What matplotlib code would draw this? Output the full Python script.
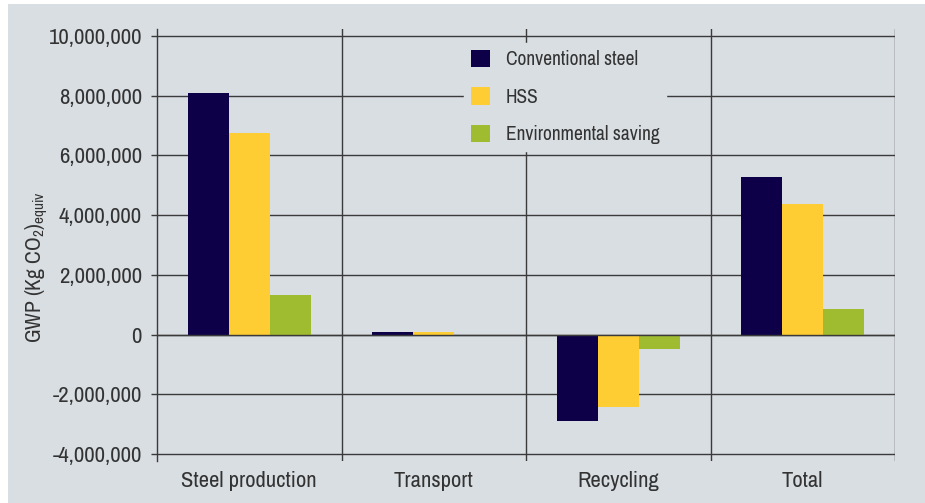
import numpy as np
import matplotlib
matplotlib.use("Agg")
import matplotlib.pyplot as plt
from matplotlib.patches import Rectangle
from matplotlib.ticker import FuncFormatter

# ---------------------------------------
# Data (GWP, kg CO2 equivalent)
# ---------------------------------------

categories = ["Steel production", "Transport", "Recycling", "Total"]
series_names = ["Conventional steel", "HSS", "Environmental saving"]

conventional = [8_100_000, 100_000, -2_890_000, 5_280_000]
hss = [6_750_000, 100_000, -2_440_000, 4_360_000]
saving = [1_340_000, 0, -470_000, 870_000]

y_ticks = [-4_000_000, -2_000_000, 0, 2_000_000, 4_000_000,
           6_000_000, 8_000_000, 10_000_000]

# ---------------------------------------
# Style
# ---------------------------------------

bg = "#d9dee2"
line_col = "#3a3a3a"
text_col = "#333333"
colors = ["#0d0049", "#fecc33", "#9fbc30"]

plt.rcParams["font.family"] = ["Archivo Narrow", "DejaVu Sans"]
plt.rcParams["mathtext.fontset"] = "custom"
plt.rcParams["mathtext.rm"] = "Archivo Narrow"
plt.rcParams["mathtext.it"] = "Archivo Narrow"

fig = plt.figure(figsize=(9.25, 5.03), dpi=100)
fig.patch.set_facecolor("white")
fig.patches.append(Rectangle((8 / 925, 0), 1, 1 - 4 / 503,
                             transform=fig.transFigure,
                             facecolor=bg, edgecolor="none", zorder=-10))

ax = fig.add_axes([157 / 925, 1 - 461 / 503, 738 / 925, 432 / 503])
ax.set_facecolor(bg)

x = np.arange(len(categories))
width = 0.222

for i, (vals, name) in enumerate(zip([conventional, hss, saving], series_names)):
    ax.bar(x + (i - 1) * width, vals, width, color=colors[i],
           label=name, zorder=3, linewidth=0)

# ---------------------------------------
# Axes, grid and dividers
# ---------------------------------------

ax.set_xlim(-0.5, 3.5)
ax.set_ylim(-4_234_000, 10_234_000)

for yv in y_ticks:
    ax.axhline(yv, color=line_col, lw=1.0, zorder=2)
ax.axhline(0, color=line_col, lw=1.0, zorder=4)

for xv in [0.5, 1.5, 2.5, 3.5]:
    ax.axvline(xv, color=line_col, lw=1.0, zorder=2)

for side in ["top", "bottom", "right"]:
    ax.spines[side].set_visible(False)
ax.spines["left"].set_color(line_col)
ax.spines["left"].set_linewidth(1.0)

ax.set_yticks(y_ticks)
ax.yaxis.set_major_formatter(FuncFormatter(lambda v, p: f"{int(v):,}"))
ax.tick_params(axis="y", length=4, width=1.0, color=line_col,
               labelsize=16.5, labelcolor=text_col, pad=6.8)

ax.set_xticks(x)
ax.set_xticklabels(categories)
ax.tick_params(axis="x", length=0, labelsize=16.3, labelcolor=text_col, pad=7)

ax.set_ylabel("GWP (Kg CO$_2$)$_{\\mathrm{equiv}}$", fontsize=15.5,
              color=text_col, fontweight="medium")
ax.yaxis.set_label_coords(-0.145, 0.449)

# ---------------------------------------
# Legend
# ---------------------------------------

leg = ax.legend(loc="upper left", bbox_to_anchor=(0.416, 0.9676),
                frameon=True, fancybox=False, facecolor=bg, edgecolor=bg,
                framealpha=1, fontsize=14, handlelength=1.0,
                handleheight=1.0, handletextpad=0.8, labelspacing=0.93,
                borderpad=0.35, borderaxespad=0, labelcolor=text_col)
leg.set_zorder(5)

fig.savefig("out.png", dpi=100, facecolor=fig.get_facecolor())
